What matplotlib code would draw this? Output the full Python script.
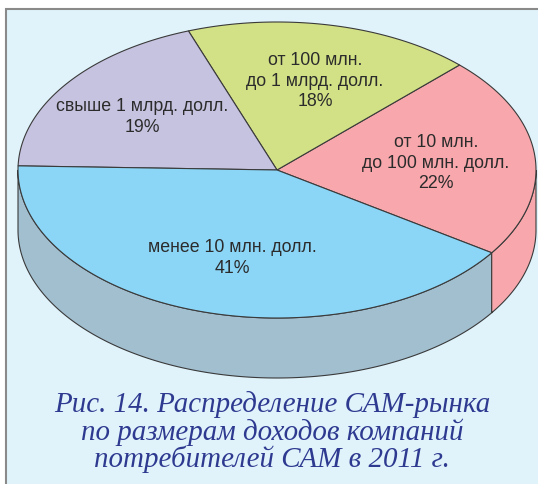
import numpy as np
import matplotlib
matplotlib.use("Agg")
import matplotlib.pyplot as plt
from matplotlib.patches import Polygon, Rectangle

categories = ["менее 10 млн. долл.", "от 10 млн.\nдо 100 млн. долл.",
              "от 100 млн.\nдо 1 млрд. долл.", "свыше 1 млрд. долл."]
shares = [41, 22, 18, 19]
top_colors = ["#8BD6F7", "#F8A8AC", "#D3E186", "#C6C3E0"]
wall_colors = ["#A2BFD0", "#F8A8AC"]
label_pos = [(232, 258), (436, 163), (315, 81), (142, 117)]
caption = ["Рис. 14. Распределение САМ-рынка",
           "по размерам доходов компаний",
           "потребителей САМ в 2011 г."]
caption_y = [404.5, 432, 459]

CX, CY, A, B, DEPTH = 277, 170, 259, 148, 60
START = -34.0
EDGE = "#3a3a3a"

fig = plt.figure(figsize=(5.38, 4.84), dpi=100)
ax = fig.add_axes([0, 0, 1, 1])
ax.set_xlim(0, 538)
ax.set_ylim(484, 0)
ax.axis("off")

ax.add_patch(Rectangle((5.5, 8.5), 540, 490, fc="#E0F3FB", ec="#8a8a8a", lw=1.5, zorder=0))


def arc(t0, t1, dy=0):
    t = np.radians(np.linspace(t0, t1, 200))
    return np.column_stack([CX + A * np.cos(t), CY - B * np.sin(t) + dy])


# front rim: blue wall from the left extreme to START, pink wall from START to the right extreme
front = START % 360
for t0, t1, col in [(180, front, wall_colors[0]), (front, 360, wall_colors[1])]:
    pts = np.vstack([arc(t0, t1), arc(t0, t1, DEPTH)[::-1]])
    ax.add_patch(Polygon(pts, closed=True, fc=col, ec=EDGE, lw=0.8, zorder=1))

# top slices, counter-clockwise from START: pink, green, purple, blue
angle = START
for i in [1, 2, 3, 0]:
    t0, t1 = angle, angle + shares[i] * 3.6
    pts = np.vstack([[CX, CY], arc(t0, t1)])
    ax.add_patch(Polygon(pts, closed=True, fc=top_colors[i], ec=EDGE, lw=0.8,
                         joinstyle="round", zorder=2))
    angle = t1

for name, share, (x, y) in zip(categories, shares, label_pos):
    ax.text(x, y, f"{name}\n{share}%", ha="center", va="center", fontsize=12.8,
            family="Liberation Sans", color="#2b2b2b", linespacing=1.24, zorder=3)

for line, y in zip(caption, caption_y):
    ax.text(272, y, line, ha="center", va="center", fontsize=20.9, style="italic",
            family="Liberation Serif", color="#2E3A90", zorder=3)

fig.savefig("out.png", dpi=100)
